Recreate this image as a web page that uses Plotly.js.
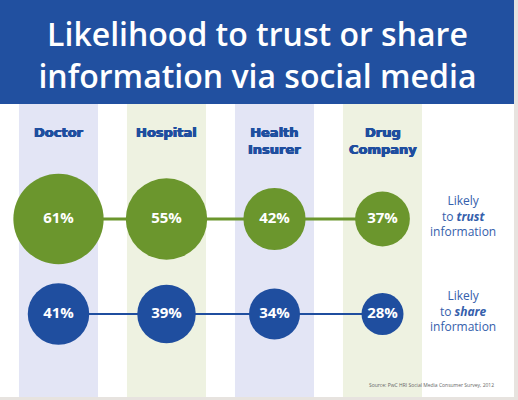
<!DOCTYPE html>
<html>
<head>
<meta charset="utf-8">
<script src="https://cdn.plot.ly/plotly-3.0.1.min.js"></script>
<style>html,body{margin:0;padding:0;background:#fff;}#chart{width:518px;height:400px;}</style>
</head>
<body>
<div id="chart"></div>
<script>
// ---- data ----
var categories = ["Doctor", "Hospital", "Health Insurer", "Drug Company"];
var categoryLabels = ["Doctor", "Hospital", "Health<br>Insurer", "Drug<br>Company"];
var trustValues = [61, 55, 42, 37];
var shareValues = [41, 39, 34, 28];
var rows = ["trust", "share"];
var rowLabels = ["Likely<br>to <b><i>trust</i></b><br>information", "Likely<br>to <b><i>share</i></b><br>information"];
var titleText = "Likelihood to trust or share<br>information via social media";
var sourceText = "Source: PwC HRI Social Media Consumer Survey, 2012";

// ---- styles ----
var navy = "#1f4e9f";
var green = "#6b962d";
var bandColors = ["#e3e5f5", "#eef2e1", "#e3e5f5", "#eef2e1"];
var FONT = "Open Sans, Liberation Sans, sans-serif";
var HEAVY = "DejaVu Sans, sans-serif";

function pct(arr){ return arr.map(function(v){ return v + "%"; }); }

var traces = [
  {
    x: categories, y: categories.map(function(){ return rows[0]; }),
    type: "scatter", mode: "lines+markers+text",
    line: {color: green, width: 3},
    marker: {size: trustValues, sizemode: "diameter", sizeref: 1/1.48, color: green, line: {width: 0}, opacity: 1},
    text: pct(trustValues), textposition: "middle center",
    textfont: {family: FONT, size: 15, color: "#ffffff", weight: 700},
    hoverinfo: "skip", cliponaxis: false
  },
  {
    x: categories, y: categories.map(function(){ return rows[1]; }),
    type: "scatter", mode: "lines+markers+text",
    line: {color: navy, width: 2},
    marker: {size: shareValues, sizemode: "diameter", sizeref: 1/1.5, color: navy, line: {width: 0}, opacity: 1},
    text: pct(shareValues), textposition: "middle center",
    textfont: {family: FONT, size: 15, color: "#ffffff", weight: 700},
    hoverinfo: "skip", cliponaxis: false
  }
];

var shapes = [];
categories.forEach(function(c, i){
  shapes.push({type: "rect", xref: "x", yref: "paper", layer: "below",
    x0: i - 0.366, x1: i + 0.366, y0: 0, y1: 0.74,
    fillcolor: bandColors[i], line: {width: 0}});
});
// title banner
shapes.push({type: "rect", xref: "paper", yref: "paper", layer: "below",
  x0: 0, x1: 514/518, y0: 0.74, y1: 1, fillcolor: "#2150a0", line: {width: 0}});
// grey frame edges
shapes.push({type: "rect", xref: "paper", yref: "paper", layer: "above",
  x0: 0, x1: 1, y0: 0, y1: 3/400, fillcolor: "#e7e3df", line: {width: 0}});
shapes.push({type: "rect", xref: "paper", yref: "paper", layer: "above",
  x0: 514/518, x1: 1, y0: 0, y1: 1, fillcolor: "#e7e3df", line: {width: 0}});

var annotations = [];
categories.forEach(function(c, i){
  annotations.push({xref: "x", yref: "paper", x: c, y: 1 - 123/400,
    xanchor: "center", yanchor: "top", showarrow: false, align: "center",
    text: categoryLabels[i],
    font: {family: HEAVY, size: 13, color: navy, weight: 700,
      shadow: "0.5px 0 0 #1f4e9f, -0.5px 0 0 #1f4e9f, 0 0.4px 0 #1f4e9f"}});
});
rows.forEach(function(r, i){
  annotations.push({xref: "paper", yref: "y", x: 463/518, y: r, yshift: 3,
    xanchor: "center", yanchor: "middle", showarrow: false, align: "center",
    text: rowLabels[i],
    font: {family: FONT, size: 12, color: "#3560ac"}});
});
annotations.push({xref: "paper", yref: "paper", x: 431/518, y: 1 - 385/400,
  xanchor: "center", yanchor: "middle", showarrow: false,
  text: sourceText, font: {family: FONT, size: 5, color: "#666666"}});

var layout = {
  width: 518, height: 400,
  margin: {l: 0, r: 0, t: 0, b: 0},
  paper_bgcolor: "#ffffff", plot_bgcolor: "rgba(0,0,0,0)",
  showlegend: false,
  title: {text: titleText, x: 0.497, xanchor: "center", y: 1 - 46/400, yanchor: "middle",
    font: {family: FONT, size: 32, color: "#ffffff", weight: 600}},
  xaxis: {type: "category", categoryarray: categories, range: [-58.5/108, (518-58.5)/108],
    visible: false, fixedrange: true},
  yaxis: {type: "category", categoryarray: rows, range: [(400-219)/95, -219/95],
    visible: false, fixedrange: true},
  shapes: shapes,
  annotations: annotations
};

Plotly.newPlot("chart", traces, layout, {displayModeBar: false, staticPlot: true});
</script>
</body>
</html>
